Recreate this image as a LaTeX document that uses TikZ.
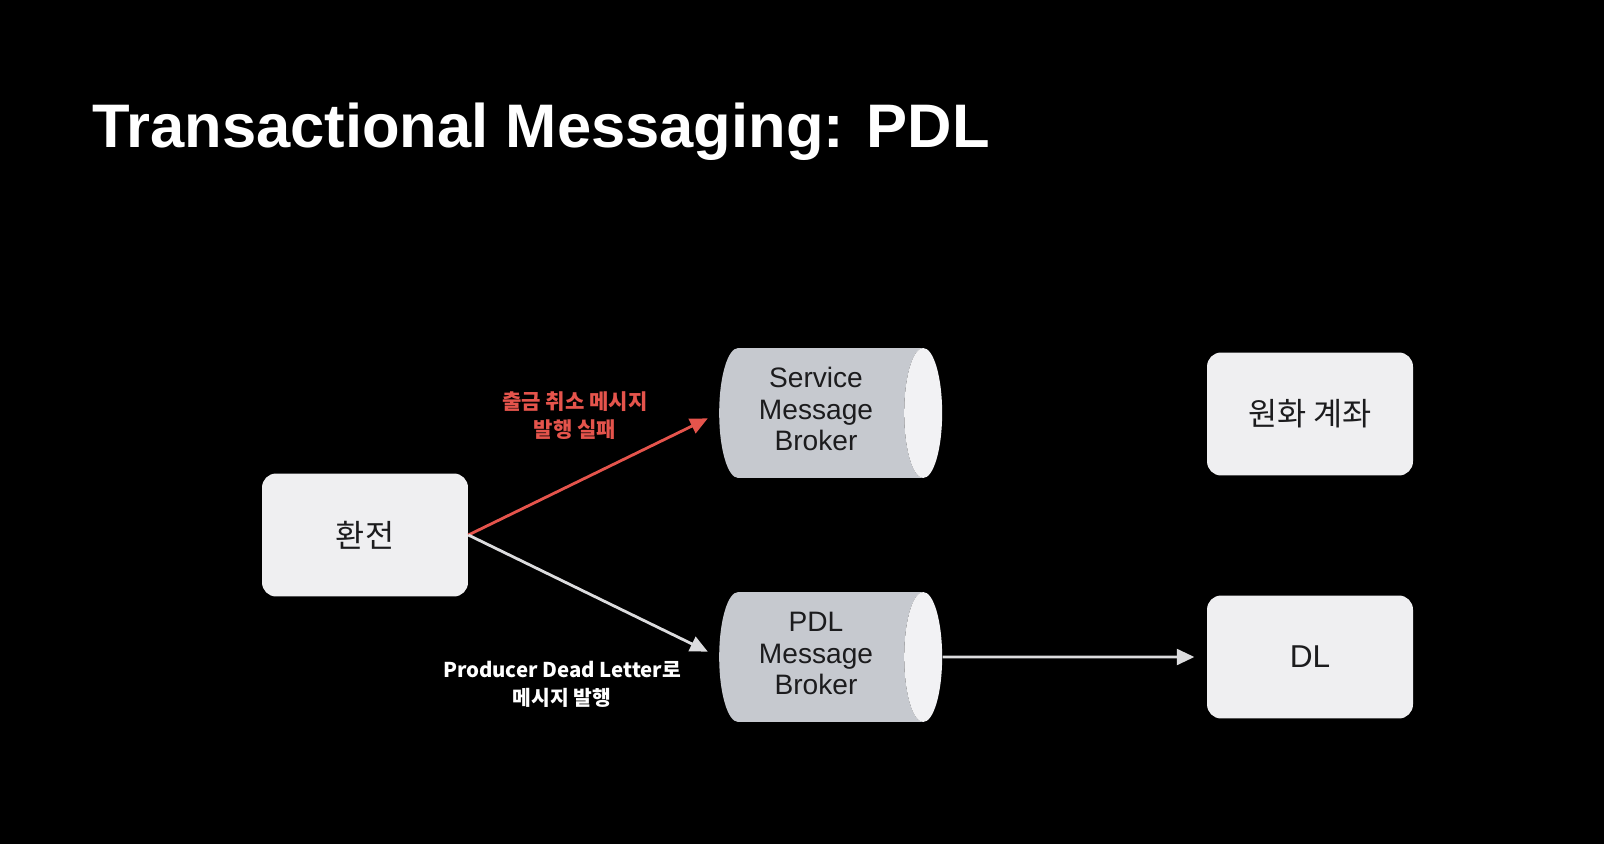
\documentclass[tikz,border=0pt]{standalone}
\usepackage{fontspec}
\setmainfont{Liberation Sans}
\newfontfamily\kr{Noto Sans CJK KR}
\usetikzlibrary{shapes.geometric,arrows.meta}
\definecolor{boxfill}{HTML}{EFEFF1}
\definecolor{bodygray}{HTML}{C6C9CF}
\definecolor{capgray}{HTML}{F2F2F4}
\definecolor{inkdark}{HTML}{1C1C1E}
\definecolor{failred}{HTML}{E5544C}
\definecolor{pathgray}{HTML}{DCDCDE}
\newcommand{\brokerlines}[1]{\raisebox{-0.08cm}{\begin{tabular}{@{}c@{}}#1\end{tabular}}\kern0.2cm}
\begin{document}
\begin{tikzpicture}[x=0.02cm,y=-0.02cm,>={Triangle[length=10pt,width=9pt]},
  service/.style={rectangle,rounded corners=8pt,fill=boxfill,text=inkdark,
    minimum width=4.12cm,minimum height=2.46cm,font=\fontsize{18}{21}\selectfont},
  broker/.style={cylinder,shape border rotate=0,aspect=0.4,cylinder uses custom fill,
    cylinder body fill=bodygray,cylinder end fill=capgray,text=inkdark,
    minimum width=2.6cm,minimum height=4.46cm,inner sep=0pt,
    font=\fontsize{16}{18}\selectfont},
  flow/.style={->,line width=1.6pt},
  tag/.style={align=center,font=\kr\bfseries\fontsize{12}{16}\selectfont}]
\fill[black] (0,0) rectangle (1604,844);
\node[anchor=base west,text=white,font=\bfseries\fontsize{35}{40}\selectfont,inner sep=0pt]
  (title) at (92,148) {Transactional Messaging: PDL};

\node[service] (exch) at (365,535) {\kr 환전};
\node[service] (krw) at (1310,414) {\kr 원화 계좌};
\node[service] (dl) at (1310,657) {DL};
\node[broker] (smb) at (821,413) {\brokerlines{Service\\Message\\Broker}};
\node[broker] (pdl) at (821,657) {\brokerlines{PDL\\Message\\Broker}};

\draw[flow,failred,shorten >=7pt] (exch.east) -- (smb.west);
\draw[flow,pathgray,shorten >=7pt] (exch.east) -- (pdl.west);
\draw[flow,pathgray,shorten >=7pt] (pdl.east) -- (dl.west);

\node[tag,text=failred] (failtag) at (575,416) {출금 취소 메시지\\발행 실패};
\node[tag,text=white,font=\kr\bfseries\fontsize{11.6}{16}\selectfont] (pdltag) at (562,684)
  {Producer Dead Letter로\\메시지 발행};
\end{tikzpicture}
\end{document}
